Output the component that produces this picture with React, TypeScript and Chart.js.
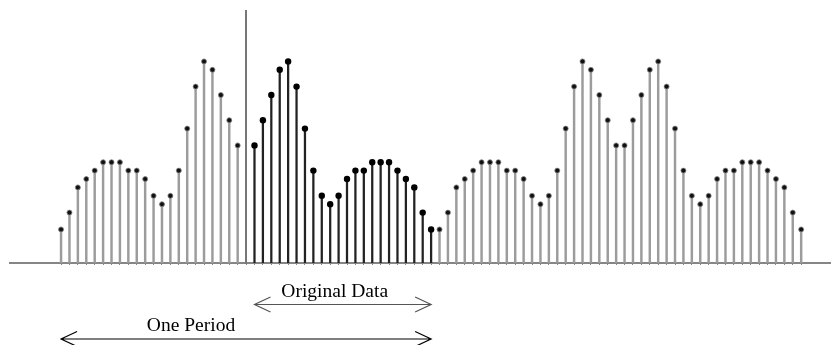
import { useEffect, useRef } from "react";
import { Chart, registerables } from "chart.js";

Chart.register(...registerables);

// Sample index where each run starts
const leftGrayStart = -22;
const originalStart = 1;
const rightGrayStart = 23;

// Mirrored copy to the left of the origin (grey)
const leftGray = [4, 6, 9, 10, 11, 12, 12, 12, 11, 11, 10, 8, 7, 8, 11, 16, 21, 24, 23, 20, 17, 14];
// Original data (black)
const original = [14, 17, 20, 23, 24, 21, 16, 11, 8, 7, 8, 10, 11, 11, 12, 12, 12, 11, 10, 9, 6, 4];
// Periodic extension to the right (grey)
const rightGray = [
  4, 6, 9, 10, 11, 12, 12, 12, 11, 11, 10, 8, 7, 8, 11, 16, 21, 24, 23, 20, 17, 14,
  14, 17, 20, 23, 24, 21, 16, 11, 8, 7, 8, 10, 11, 11, 12, 12, 12, 11, 10, 9, 6, 4,
];

const xMin = -28.07;
const xMax = 69.57;
const yMax = 30;

const originalLabel = "Original Data";
const periodLabel = "One Period";
const originalSpan = [1, 22];
const periodSpan = [-22, 22];

const toPoints = (vals: number[], start: number) => vals.map((v, i) => ({ x: start + i, y: v }));

const annotPlugin = {
  id: "annot",
  afterDraw(chart: any) {
    const { ctx } = chart;
    const xs = chart.scales.x;
    const arrow = (n1: number, n2: number, y: number, color: string) => {
      const a = xs.getPixelForValue(n1);
      const b = xs.getPixelForValue(n2);
      ctx.strokeStyle = color;
      ctx.lineWidth = 1.2;
      ctx.beginPath();
      ctx.moveTo(a, y);
      ctx.lineTo(b, y);
      ctx.moveTo(a + 16, y - 7.5);
      ctx.lineTo(a, y);
      ctx.lineTo(a + 16, y + 7.5);
      ctx.moveTo(b - 16, y - 7.5);
      ctx.lineTo(b, y);
      ctx.lineTo(b - 16, y + 7.5);
      ctx.stroke();
    };
    ctx.save();
    arrow(originalSpan[0], originalSpan[1], 304.5, "#555");
    arrow(periodSpan[0], periodSpan[1], 339, "#000");
    ctx.fillStyle = "#000";
    ctx.font = '19.5px "Liberation Serif", "Times New Roman", serif';
    ctx.textAlign = "center";
    ctx.textBaseline = "alphabetic";
    ctx.fillText(originalLabel, 334.7, 297);
    ctx.fillText(periodLabel, 191, 331);
    ctx.restore();
  },
};

export default function App() {
  const ref = useRef<HTMLCanvasElement | null>(null);

  useEffect(() => {
    if (!ref.current) return;
    const grayPts = [...toPoints(leftGray, leftGrayStart), ...toPoints(rightGray, rightGrayStart)];
    const blackPts = toPoints(original, originalStart);
    const chart = new Chart(ref.current, {
      type: "bar",
      data: {
        datasets: [
          {
            type: "scatter",
            data: blackPts,
            pointRadius: 3.2,
            pointBackgroundColor: "#000",
            pointBorderColor: "#000",
            pointBorderWidth: 0,
            order: 0,
          } as any,
          {
            type: "scatter",
            data: grayPts,
            pointRadius: 2.5,
            pointBackgroundColor: "#111",
            pointBorderColor: "#888",
            pointBorderWidth: 0.8,
            order: 1,
          } as any,
          {
            type: "bar",
            data: blackPts,
            backgroundColor: "#222",
            barThickness: 1.6,
            grouped: false,
            order: 2,
          } as any,
          {
            type: "bar",
            data: grayPts,
            backgroundColor: "#9c9c9c",
            barThickness: 1.8,
            grouped: false,
            order: 3,
          } as any,
        ],
      },
      options: {
        animation: false,
        responsive: false,
        events: [],
        layout: { padding: { left: 10, right: 1.2, top: 11, bottom: 0 } },
        plugins: { legend: { display: false }, tooltip: { enabled: false } },
        scales: {
          x: {
            type: "linear",
            min: xMin,
            max: xMax,
            offset: false,
            position: "bottom",
            ticks: { display: false, stepSize: 1 },
            grid: { display: true, offset: false, drawOnChartArea: false, drawTicks: true, tickLength: 2, color: "#888", lineWidth: 1 },
            border: { display: true, color: "#858585", width: 2 },
            afterBuildTicks: (s: any) => {
              s.ticks = s.ticks.filter((t: any) => Number.isInteger(t.value) && t.value >= -22 && t.value <= 66);
            },
            afterFit: (s: any) => {
              s.height = 82;
            },
          } as any,
          y: {
            type: "linear",
            min: 0,
            max: yMax,
            position: { x: 0 } as any,
            ticks: { display: false },
            grid: { display: false },
            border: { display: true, color: "#777", width: 2 },
            afterFit: (s: any) => {
              s.width = 0;
            },
          } as any,
        },
      },
      plugins: [annotPlugin],
    });
    return () => chart.destroy();
  }, []);

  return (
    <div style={{ position: "fixed", left: 0, top: 0, width: 836, height: 345, background: "#fff" }}>
      <canvas ref={ref} width={836} height={345} style={{ display: "block" }} />
    </div>
  );
}
